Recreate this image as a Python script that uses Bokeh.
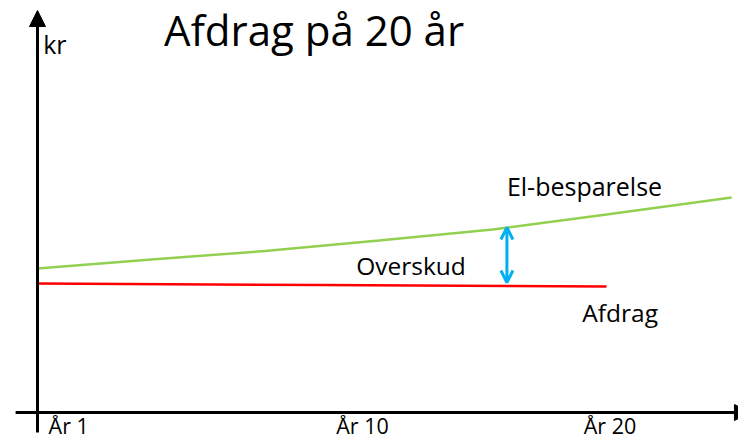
from bokeh.plotting import figure
from bokeh.models import Arrow, NormalHead, OpenHead, Range1d
from bokeh.core.properties import value
from bokeh.embed import file_html
from bokeh.resources import INLINE

# Schematic data (x in years, y in thousand kr, arbitrary scale)
green_years = [0, 4, 8, 12, 16, 20, 24.4]
green_kr = [14.4, 15.3, 16.15, 17.2, 18.3, 19.8, 21.5]   # El-besparelse
red_years = [0, 10, 20]
red_kr = [12.9, 12.75, 12.6]                             # Afdrag
surplus_year = 16.5
surplus_low, surplus_high = 13.0, 18.5                    # Overskud arrow

tick_labels = ["År 1", "År 10", "År 20"]
tick_pos = [0.39, 10.5, 19.2]

FONT = value("Open Sans")

p = figure(width=738, height=439, output_backend="svg", toolbar_location=None,
           x_range=Range1d(-1.3005, 24.640), y_range=Range1d(-2.7, 41.2),
           min_border=0, outline_line_color=None)
p.axis.visible = False
p.grid.visible = False

# axes drawn as arrows
p.add_layout(Arrow(x_start=0, y_start=-2.0, x_end=0, y_end=40.2,
                   line_width=3, line_color="black",
                   end=NormalHead(size=16, fill_color="black", line_color="black", line_width=1)))
p.add_layout(Arrow(x_start=-0.77, y_start=0, x_end=25.06, y_end=0,
                   line_width=3, line_color="black",
                   end=NormalHead(size=16, fill_color="black", line_color="black", line_width=1)))

p.line(green_years, green_kr, line_color="#92D050", line_width=2.5)
p.line(red_years, red_kr, line_color="#FF0000", line_width=2.5)

p.add_layout(Arrow(x_start=surplus_year, y_start=surplus_low, x_end=surplus_year, y_end=surplus_high,
                   line_color="#00B0F0", line_width=3,
                   start=OpenHead(size=12, line_color="#00B0F0", line_width=3),
                   end=OpenHead(size=12, line_color="#00B0F0", line_width=3)))

p.text(x=[4.45], y=[38.3], text=["Afdrag på 20 år"], text_font=FONT,
       text_font_size="42px", text_color="black", text_baseline="alphabetic")
p.text(x=[0.2], y=[36.85], text=["kr"], text_font=FONT,
       text_font_size="25px", text_color="black", text_baseline="alphabetic")
p.text(x=[16.5], y=[22.65], text=["El-besparelse"], text_font=FONT,
       text_font_size="25px", text_color="black", text_baseline="alphabetic")
p.text(x=[11.2], y=[14.7], text=["Overskud"], text_font=FONT,
       text_font_size="24.5px", text_color="black", text_baseline="alphabetic")
p.text(x=[19.15], y=[9.96], text=["Afdrag"], text_font=FONT,
       text_font_size="24.5px", text_color="black", text_baseline="alphabetic")
p.text(x=tick_pos, y=[-1.3, -1.3, -1.3], text=tick_labels, text_font=FONT,
       text_font_size="21.5px", text_color="black", text_baseline="alphabetic")

open("out.html", "w").write(file_html(p, INLINE))
